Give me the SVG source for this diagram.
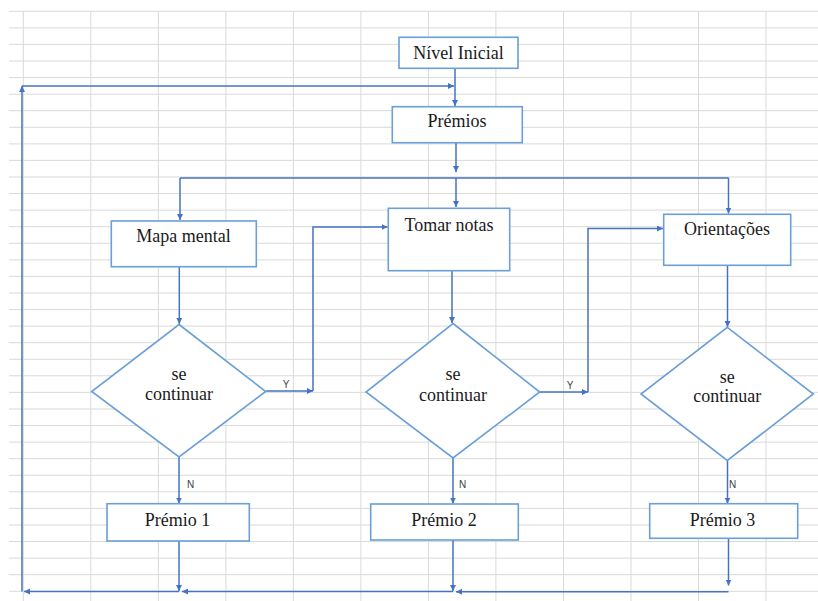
<svg xmlns="http://www.w3.org/2000/svg" width="818" height="601" viewBox="0 0 818 601">
<style>
.grid{stroke:#d9d9d9;stroke-width:1;fill:none}
.box{fill:#ffffff;stroke:#6a9fd8;stroke-width:1.6}
.lbl{font-family:"Liberation Serif","Times New Roman",serif;font-size:18px;fill:#1a1a1a;text-anchor:middle}
.yn{font-family:"Liberation Sans",Arial,sans-serif;font-size:10px;fill:#404040;text-anchor:middle}
.con{fill:none;stroke:#4472c4;stroke-width:1.5}
.arr{marker-end:url(#ah)}
</style>
<defs>
<marker id="ah" markerUnits="userSpaceOnUse" markerWidth="7" markerHeight="7" refX="6" refY="3" orient="auto">
<path d="M0,0 L6,3 L0,6 z" fill="#4472c4"/>
</marker>
</defs>
<rect width="818" height="601" fill="#ffffff"/>
<g id="grid" class="grid">
<path d="M9,11.3H818M9,27.9H818M9,44.4H818M9,61H818M9,77.6H818M9,94.2H818M9,110.7H818M9,127.3H818M9,143.9H818M9,160.4H818M9,177H818M9,193.6H818M9,210.1H818M9,226.7H818M9,243.3H818M9,259.9H818M9,276.4H818M9,293H818M9,309.6H818M9,326.1H818M9,342.7H818M9,359.3H818M9,375.8H818M9,392.4H818M9,409H818M9,425.6H818M9,442.1H818M9,458.7H818M9,475.3H818M9,491.8H818M9,508.4H818M9,525H818M9,541.5H818M9,558.1H818M9,574.7H818M9,591.3H818"/>
<path d="M23.3,11V601M90.8,11V601M158.3,11V601M225.9,11V601M293.4,11V601M360.9,11V601M428.4,11V601M495.9,11V601M563.5,11V601M631,11V601M698.5,11V601M766,11V601"/>
</g>
<g id="connectors">
<path class="con arr" d="M455,69V106"/>
<path class="con arr" d="M456,143V172"/>
<path class="con" d="M180,178H728.5"/>
<path class="con arr" d="M456,178V207"/>
<path class="con arr" d="M180,178V220"/>
<path class="con arr" d="M728.5,178V213.5"/>
<path class="con arr" d="M179.3,267V324"/>
<path class="con arr" d="M266,391H313"/>
<path class="con arr" d="M313,391V227H387.5"/>
<path class="con arr" d="M452,271V323"/>
<path class="con arr" d="M540,392H588"/>
<path class="con arr" d="M588,392V228.5H663"/>
<path class="con arr" d="M727.5,265.5V327"/>
<path class="con arr" d="M179,457V503.5"/>
<path class="con arr" d="M453,458V503.5"/>
<path class="con arr" d="M727.5,460V503.5"/>
<path class="con arr" d="M179,541V591"/>
<path class="con arr" d="M453,540V591"/>
<path class="con arr" d="M728.5,538.5V585.5"/>
<path class="con arr" d="M728.5,591.7H456"/>
<path class="con arr" d="M453,591.5H182"/>
<path class="con arr" d="M179,591.5H24"/>
<path class="con arr" d="M22,591.5V86"/>
<path class="con arr" d="M22,86H454"/>
<text class="yn" x="286" y="388">Y</text>
<text class="yn" x="570" y="389">Y</text>
<text class="yn" x="190.5" y="488">N</text>
<text class="yn" x="462.5" y="488">N</text>
<text class="yn" x="732.5" y="488">N</text>
</g>
<g id="nivel-inicial">
<rect class="box" x="399" y="37.3" width="119" height="31"/>
<text class="lbl" x="458.5" y="58.5">Nível Inicial</text>
</g>
<g id="premios">
<rect class="box" x="392.3" y="106.7" width="130" height="36"/>
<text class="lbl" x="457" y="127">Prémios</text>
</g>
<g id="mapa-mental">
<rect class="box" x="111.3" y="221" width="145" height="45.7"/>
<text class="lbl" x="183.5" y="241.5">Mapa mental</text>
</g>
<g id="tomar-notas">
<rect class="box" x="388.3" y="208.3" width="121.4" height="62.4"/>
<text class="lbl" x="449" y="230.5">Tomar notas</text>
</g>
<g id="orientacoes">
<rect class="box" x="663.7" y="214.3" width="127" height="51"/>
<text class="lbl" x="727" y="235">Orientações</text>
</g>
<g id="decisao-1">
<path class="box" d="M179,324.5L265.7,391.5L179,457L91.7,391.5Z"/>
<text class="lbl" x="179" y="379.5">se</text>
<text class="lbl" x="179" y="400">continuar</text>
</g>
<g id="decisao-2">
<path class="box" d="M453,323.5L539.7,392L453,458L366,392Z"/>
<text class="lbl" x="453" y="380">se</text>
<text class="lbl" x="453" y="400.5">continuar</text>
</g>
<g id="decisao-3">
<path class="box" d="M727.3,327.3L813.3,394L727.3,460.5L641,394Z"/>
<text class="lbl" x="727.3" y="383">se</text>
<text class="lbl" x="727.3" y="402">continuar</text>
</g>
<g id="premio-1">
<rect class="box" x="107" y="503.7" width="142.3" height="37.3"/>
<text class="lbl" x="177.5" y="525.5">Prémio 1</text>
</g>
<g id="premio-2">
<rect class="box" x="370.7" y="504" width="147.6" height="36"/>
<text class="lbl" x="444" y="525.5">Prémio 2</text>
</g>
<g id="premio-3">
<rect class="box" x="649.7" y="503.7" width="148" height="34.6"/>
<text class="lbl" x="722.5" y="525.5">Prémio 3</text>
</g>
</svg>
